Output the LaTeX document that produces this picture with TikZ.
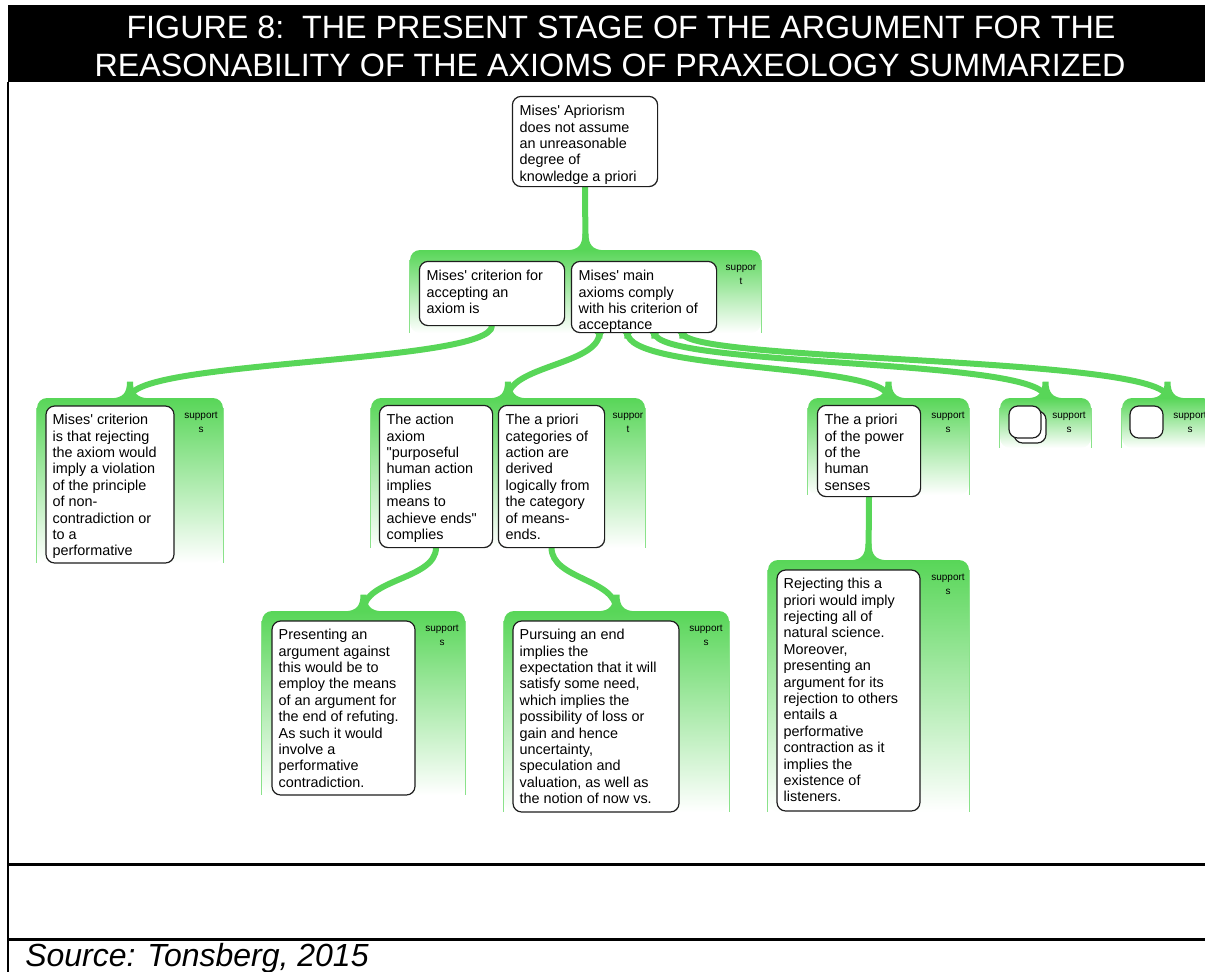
\documentclass[tikz,border=0pt]{standalone}
\usepackage{fontspec}
\newfontfamily\arial{Liberation Sans}
\usetikzlibrary{fit,calc}
\definecolor{grn}{RGB}{88,214,88}
\definecolor{frame}{RGB}{30,30,30}
% struts fixing the first baseline of box texts and panel captions
\newcommand\boxstrut{\rule{0pt}{14.25pt}}
\newcommand\capstrut{\rule{0pt}{15pt}}
\begin{document}
\begin{tikzpicture}[x=0.75pt,y=-0.75pt,
  tbox/.style={draw=frame, line width=0.9pt, fill=white, rounded corners=6.5pt, inner sep=0pt},
  btext/.style={anchor=north west, inner sep=0pt, align=left,
    font=\arial\fontsize{10.8pt}{12.3pt}\selectfont},
  panel/.style={inner sep=0pt, rounded corners=7.5pt, top color=grn, bottom color=white, draw=none},
  pedge/.style={draw=grn!70, line width=0.8pt},
  sup/.style={anchor=north, inner sep=0pt, align=center,
    font=\arial\fontsize{7.5pt}{10.5pt}\selectfont},
  conn/.style={draw=grn, line width=4.5pt},
  ttl/.style={anchor=base, inner sep=0pt, text=white, font=\arial\fontsize{24.2pt}{29pt}\selectfont},
  flare/.pic={\fill[grn] (-18,0.5) .. controls (-7,0) and (-3,-5) .. (-3,-16)
      -- (3,-16) .. controls (3,-5) and (7,0) .. (18,0.5) -- cycle;},
  sflare/.pic={\fill[grn] (-6,-0.5) .. controls (-3.5,0) and (-3,2) .. (-3,6)
      -- (3,6) .. controls (3,2) and (3.5,0) .. (6,-0.5) -- cycle;}
]
\useasboundingbox (0,0) rectangle (1205,971);
\clip (0,0) rectangle (1205,971);

% heading bar and frame rules
\fill[black] (8,5) rectangle (1215,82);
\node[ttl] (t1) at (621,38) {FIGURE 8:\ \ THE PRESENT STAGE OF THE ARGUMENT FOR THE};
\node[ttl] (t2) at (610,76.5) {REASONABILITY OF THE AXIOMS OF PRAXEOLOGY SUMMARIZED};
\draw[line width=1.9pt] (8,82) -- (8,975);
\draw[line width=1.9pt] (8,864.5) -- (1215,864.5);
\draw[line width=1.9pt] (8,939.5) -- (1215,939.5);
\node[anchor=base west, inner sep=0pt, font=\arial\itshape\fontsize{24pt}{29pt}\selectfont] (src) at (25,966.5)
  {Source: Tonsberg, 2015};

% support panels
\node[panel, fit={(410,250) (761,333)}] (P1) {};
\node[panel, fit={(37,398) (223,563)}] (P2) {};
\node[panel, fit={(371,398) (645,548)}] (P3) {};
\node[panel, fit={(808,398) (969,495)}] (P4) {};
\node[panel, fit={(1000,398) (1091,448)}] (P5) {};
\node[panel, fit={(1122,398) (1213,448)}] (P6) {};
\node[panel, fit={(262,611) (465,795)}] (P7) {};
\node[panel, fit={(504,611) (729,812)}] (P8) {};
\node[panel, fit={(768,560) (969,812)}] (P9) {};
\foreach \p in {P1,P2,P3,P4,P5,P6,P7,P8,P9}{
  \draw[pedge] ($(\p.north west)+(0,10)$) -- (\p.south west);
  \draw[pedge] ($(\p.north east)+(0,10)$) -- (\p.south east);
}

% panel captions
\node[sup] (s1) at (741,250) {\capstrut suppor\\t};
\node[sup] (s2) at (201,398) {\capstrut support\\s};
\node[sup] (s3) at (628,398) {\capstrut suppor\\t};
\node[sup] (s4) at (948,398) {\capstrut support\\s};
\node[sup] (s5) at (1069,398) {\capstrut support\\s};
\node[sup] (s6) at (1190,398) {\capstrut support\\s};
\node[sup] (s7) at (442,611) {\capstrut support\\s};
\node[sup] (s8) at (706,611) {\capstrut support\\s};
\node[sup] (s9) at (948,560) {\capstrut support\\s};

% claim boxes
\node[tbox, fit={(513,97) (657,186)}] (A) {};
\node[tbox, fit={(420,262) (564,325)}] (B1) {};
\node[tbox, fit={(572,262) (716,332)}] (B2) {};
\node[tbox, fit={(46,406) (174,563)}] (C1) {};
\node[tbox, fit={(380,406) (492,547)}] (C2) {};
\node[tbox, fit={(499,406) (604,547)}] (C3) {};
\node[tbox, fit={(818,406) (920,496)}] (C4) {};
\node[tbox, fit={(1014,411) (1046,443)}] (C5b) {};
\node[tbox, fit={(1009,406) (1041,438)}] (C5) {};
\node[tbox, fit={(1130,406) (1163,438)}] (C6) {};
\node[tbox, fit={(272,621) (415,795)}] (D1) {};
\node[tbox, fit={(513,621) (679,812)}] (D2) {};
\node[tbox, fit={(777,570) (920,811)}] (D3) {};

% connector start points along the lower edge of B2
\coordinate (o1) at ($(B2.south west)+(28,0)$);
\coordinate (o2) at ($(B2.south west)+(56,0)$);
\coordinate (o3) at ($(B2.south west)+(83,0)$);
\coordinate (o4) at ($(B2.south west)+(111,0)$);

% connectors
\draw[conn] (A.south) -- (P1.north);
\draw[conn] (B1.south) .. controls +(0,38) and +(0,-38) .. (P2.north);
\draw[conn] (o1) .. controls +(0,32) and +(0,-32) .. (P3.north);
\draw[conn] (o2) .. controls +(0,40) and +(0,-35) .. (P4.north);
\draw[conn] (o3) .. controls +(0,35) and +(0,-40) .. (P5.north);
\draw[conn] (o4) .. controls +(0,30) and +(0,-42) .. (P6.north);
\draw[conn] (C2.south) .. controls +(0,32) and +(0,-32) .. (P7.north);
\draw[conn] (C3.south) .. controls +(0,32) and +(0,-32) .. (P8.north);
\draw[conn] (C4.south) -- (P9.north);
\foreach \t in {P1,P2,P3,P4,P5,P6,P7,P8,P9} { \pic at (\t.north) {flare}; }
\foreach \s in {A,B1,o1,o2,o3,o4,C2,C3,C4} { \pic at (\s.center) {sflare}; }

% redraw the source boxes over the connector ends
\foreach \b in {A,B1,B2,C2,C3,C4}{
  \draw[tbox] (\b.north west) rectangle (\b.south east);
}

% box texts
\node[btext] (At) at ($(A.north west)+(7,0)$) {\boxstrut Mises' Apriorism\\does not assume\\an unreasonable\\degree of\\knowledge a priori};
\node[btext] (B1t) at ($(B1.north west)+(7,0)$) {\boxstrut Mises' criterion for\\accepting an\\axiom is};
\node[btext] (B2t) at ($(B2.north west)+(7,0)$) {\boxstrut Mises' main\\axioms comply\\with his criterion of\\acceptance};
\node[btext] (C1t) at ($(C1.north west)+(7,0)$) {\boxstrut Mises' criterion\\is that rejecting\\the axiom would\\imply a violation\\of the principle\\of non-\\contradiction or\\to a\\performative};
\node[btext] (C2t) at ($(C2.north west)+(7,0)$) {\boxstrut The action\\axiom\\"purposeful\\human action\\implies\\means to\\achieve ends"\\complies};
\node[btext] (C3t) at ($(C3.north west)+(7,0)$) {\boxstrut The a priori\\categories of\\action are\\derived\\logically from\\the category\\of means-\\ends.};
\node[btext] (C4t) at ($(C4.north west)+(7,0)$) {\boxstrut The a priori\\of the power\\of the\\human\\senses};
\node[btext] (D1t) at ($(D1.north west)+(7,0)$) {\boxstrut Presenting an\\argument against\\this would be to\\employ the means\\of an argument for\\the end of refuting.\\As such it would\\involve a\\performative\\contradiction.};
\node[btext] (D2t) at ($(D2.north west)+(7,0)$) {\boxstrut Pursuing an end\\implies the\\expectation that it will\\satisfy some need,\\which implies the\\possibility of loss or\\gain and hence\\uncertainty,\\speculation and\\valuation, as well as\\the notion of now vs.};
\node[btext] (D3t) at ($(D3.north west)+(7,0)$) {\boxstrut Rejecting this a\\priori would imply\\rejecting all of\\natural science.\\Moreover,\\presenting an\\argument for its\\rejection to others\\entails a\\performative\\contraction as it\\implies the\\existence of\\listeners.};
\end{tikzpicture}
\end{document}
